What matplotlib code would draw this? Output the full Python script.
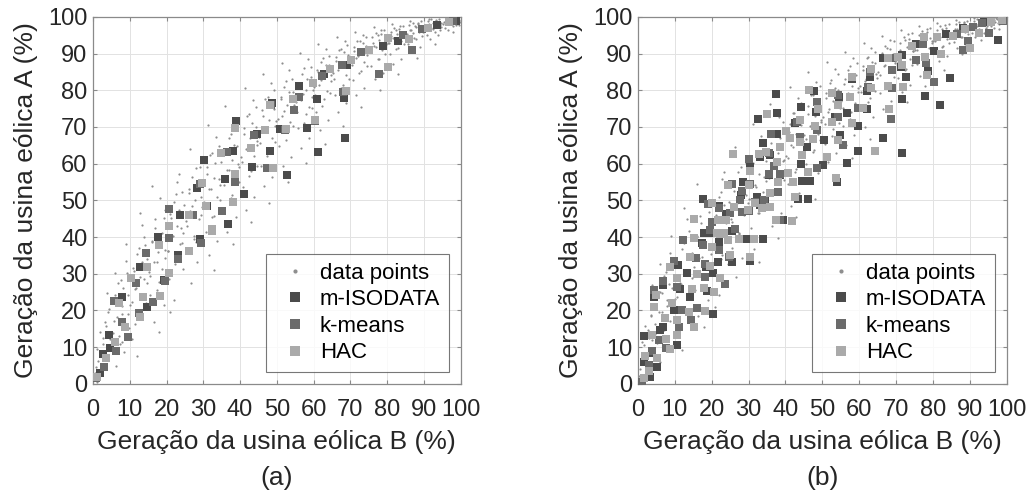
import matplotlib
matplotlib.use("Agg")
import matplotlib.pyplot as plt

plt.rcParams["font.family"] = ["Liberation Sans", "DejaVu Sans"]

# ---- panel (a) ----
# data point cloud
cloud_a_x = [
    0.4, 0.9, 1.3, 1.8, 2.2, 2.7, 3.1, 3.6, 4.0, 4.4, 4.8, 1.1, 2.5, 3.9,
    5.3, 5.8, 6.2, 6.7, 7.1, 7.6, 8.0, 8.5, 8.9, 9.4, 9.8, 6.0, 7.9, 9.1,
    10.2, 10.7, 11.1, 11.6, 12.0, 12.5, 12.9, 13.4, 13.8, 14.3, 14.7, 11.3, 12.7, 14.0,
    15.2, 15.6, 16.1, 16.5, 17.0, 17.4, 17.9, 18.3, 18.8, 19.2, 19.7, 16.0, 18.0, 19.5,
    20.3, 20.8, 21.2, 21.7, 22.1, 22.6, 23.0, 23.5, 23.9, 24.4, 24.8, 21.0, 22.9, 24.1,
    25.2, 25.7, 26.1, 26.6, 27.0, 27.5, 27.9, 28.4, 28.8, 29.3, 29.7, 26.3, 28.1, 29.5,
    30.2, 30.7, 31.1, 31.6, 32.0, 32.5, 32.9, 33.4, 33.8, 34.3, 34.7, 31.4, 33.0, 34.5,
    35.2, 35.6, 36.1, 36.5, 37.0, 37.4, 37.9, 38.3, 38.8, 39.2, 39.7, 36.0, 38.0, 39.4,
    40.2, 40.7, 41.1, 41.6, 42.0, 42.5, 42.9, 43.4, 43.8, 44.3, 44.7, 41.3, 43.0, 44.5,
    45.2, 45.7, 46.1, 46.6, 47.0, 47.5, 47.9, 48.4, 48.8, 49.3, 49.7, 46.3, 48.0, 49.5,
    50.2, 50.7, 51.1, 51.6, 52.0, 52.5, 52.9, 53.4, 53.8, 54.3, 54.7, 51.3, 53.0, 54.5,
    55.2, 55.7, 56.1, 56.6, 57.0, 57.5, 57.9, 58.4, 58.8, 59.3, 59.7, 56.3, 58.0, 59.5,
    60.2, 60.7, 61.1, 61.6, 62.0, 62.5, 62.9, 63.4, 63.8, 64.3, 64.7, 61.3, 63.0, 64.5,
    65.2, 65.7, 66.1, 66.6, 67.0, 67.5, 67.9, 68.4, 68.8, 69.3, 69.7, 66.3, 68.0, 69.5,
    70.2, 70.7, 71.1, 71.6, 72.0, 72.5, 72.9, 73.4, 73.8, 74.3, 74.7, 71.3, 73.0, 74.5,
    75.2, 75.7, 76.1, 76.6, 77.0, 77.5, 77.9, 78.4, 78.8, 79.3, 79.7, 76.3, 78.0, 79.5,
    80.2, 80.7, 81.1, 81.6, 82.0, 82.5, 82.9, 83.4, 83.8, 84.3, 84.7, 81.3, 83.0, 84.5,
    85.2, 85.7, 86.1, 86.6, 87.0, 87.5, 87.9, 88.4, 88.8, 89.3, 89.7, 86.3, 88.0, 89.5,
    90.2, 90.7, 91.1, 91.6, 92.0, 92.5, 92.9, 93.4, 93.8, 94.3, 94.7, 91.3, 93.0, 94.5,
    95.2, 95.7, 96.1, 96.6, 97.0, 97.5, 97.9, 98.4, 98.8, 99.3, 99.7, 96.3, 98.0, 99.5,
]
cloud_a_y = [
    1.2, 4.5, 2.0, 8.3, 5.1, 12.4, 7.0, 15.8, 10.2, 20.5, 13.7, 0.5, 3.4, 24.8,
    9.5, 17.2, 4.8, 22.6, 13.1, 28.4, 19.0, 8.7, 33.5, 24.1, 15.3, 30.2, 11.5, 38.0,
    21.4, 12.3, 30.8, 26.0, 7.5, 36.9, 18.6, 43.2, 28.7, 22.1, 33.9, 16.2, 46.5, 40.1,
    30.5, 24.2, 38.7, 16.9, 44.9, 33.1, 27.8, 50.6, 41.0, 21.5, 36.4, 53.8, 14.2, 47.3,
    36.2, 28.5, 45.1, 40.3, 22.9, 51.7, 34.0, 57.2, 42.6, 31.4, 48.8, 19.5, 55.0, 38.5,
    44.3, 35.9, 52.0, 27.4, 48.6, 40.2, 58.8, 33.1, 54.5, 46.0, 61.5, 63.9, 38.7, 50.8,
    49.6, 41.4, 57.3, 35.2, 53.0, 62.8, 45.7, 67.2, 38.9, 55.9, 60.4, 70.5, 31.0, 50.2,
    55.8, 47.9, 62.6, 41.3, 58.4, 68.1, 51.5, 72.3, 45.6, 64.7, 54.9, 75.8, 38.2, 60.0,
    61.7, 53.6, 68.2, 47.4, 64.0, 73.5, 57.9, 77.4, 50.8, 70.1, 66.3, 80.6, 44.0, 59.5,
    67.4, 59.3, 73.0, 53.8, 69.7, 78.2, 63.1, 81.9, 56.5, 75.0, 71.6, 84.5, 49.2, 65.8,
    72.1, 64.7, 77.6, 59.4, 74.3, 82.5, 68.8, 85.4, 61.9, 79.6, 76.0, 87.3, 55.1, 70.4,
    76.8, 69.6, 81.4, 64.2, 78.9, 86.1, 73.4, 88.6, 67.0, 83.7, 80.2, 90.1, 60.3, 75.1,
    80.9, 74.2, 85.0, 69.1, 82.8, 88.9, 77.5, 91.2, 71.8, 86.9, 84.1, 92.6, 65.4, 79.3,
    84.6, 78.7, 88.0, 74.0, 86.4, 91.3, 81.5, 93.4, 76.4, 89.7, 87.5, 94.5, 70.3, 83.0,
    87.9, 82.9, 90.6, 78.6, 89.4, 93.3, 85.2, 95.1, 80.7, 92.0, 90.3, 96.0, 75.5, 86.5,
    90.7, 86.7, 92.9, 83.1, 91.9, 95.0, 88.6, 96.5, 84.8, 94.0, 92.6, 97.2, 80.0, 89.8,
    93.0, 89.9, 94.8, 87.2, 94.0, 96.4, 91.6, 97.6, 88.5, 95.6, 94.4, 98.1, 84.3, 92.5,
    95.0, 92.7, 96.3, 90.8, 95.7, 97.5, 94.1, 98.4, 91.9, 96.9, 95.9, 98.8, 88.7, 94.8,
    96.6, 95.0, 97.5, 93.9, 97.1, 98.4, 96.0, 99.0, 95.0, 97.9, 97.2, 99.4, 92.5, 96.4,
    98.0, 97.0, 98.5, 96.5, 98.3, 99.1, 97.6, 99.5, 97.9, 98.8, 98.6, 99.7, 96.0, 97.8,
]
# denser core of the cloud
core_a_x = [
    0.5, 1.0, 1.5, 1.9, 2.4, 2.8, 3.3, 3.7, 4.2, 4.6,
    5.5, 6.0, 6.5, 6.9, 7.4, 7.8, 8.3, 8.7, 9.2, 9.6,
    10.5, 11.0, 11.5, 11.9, 12.4, 12.8, 13.3, 13.7, 14.2, 14.6,
    15.5, 16.0, 16.5, 16.9, 17.4, 17.8, 18.3, 18.7, 19.2, 19.6,
    20.5, 21.0, 21.5, 21.9, 22.4, 22.8, 23.3, 23.7, 24.2, 24.6,
    25.5, 26.0, 26.5, 26.9, 27.4, 27.8, 28.3, 28.7, 29.2, 29.6,
    30.5, 31.0, 31.5, 31.9, 32.4, 32.8, 33.3, 33.7, 34.2, 34.6,
    35.5, 36.0, 36.5, 36.9, 37.4, 37.8, 38.3, 38.7, 39.2, 39.6,
    40.5, 41.0, 41.5, 41.9, 42.4, 42.8, 43.3, 43.7, 44.2, 44.6,
    45.5, 46.0, 46.5, 46.9, 47.4, 47.8, 48.3, 48.7, 49.2, 49.6,
    50.5, 51.0, 51.5, 51.9, 52.4, 52.8, 53.3, 53.7, 54.2, 54.6,
    55.5, 56.0, 56.5, 56.9, 57.4, 57.8, 58.3, 58.7, 59.2, 59.6,
    60.5, 61.0, 61.5, 61.9, 62.4, 62.8, 63.3, 63.7, 64.2, 64.6,
    65.5, 66.0, 66.5, 66.9, 67.4, 67.8, 68.3, 68.7, 69.2, 69.6,
    70.5, 71.0, 71.5, 71.9, 72.4, 72.8, 73.3, 73.7, 74.2, 74.6,
    75.5, 76.0, 76.5, 76.9, 77.4, 77.8, 78.3, 78.7, 79.2, 79.6,
    80.5, 81.0, 81.5, 81.9, 82.4, 82.8, 83.3, 83.7, 84.2, 84.6,
    85.5, 86.0, 86.5, 86.9, 87.4, 87.8, 88.3, 88.7, 89.2, 89.6,
    90.5, 91.0, 91.5, 91.9, 92.4, 92.8, 93.3, 93.7, 94.2, 94.6,
    95.5, 96.0, 96.5, 96.9, 97.4, 97.8, 98.3, 98.7, 99.2, 99.6,
]
core_a_y = [
    3.0, 9.5, 6.2, 14.1, 2.6, 11.0, 16.8, 7.3, 19.5, 12.2,
    14.0, 24.1, 18.3, 27.6, 10.9, 21.2, 26.0, 15.8, 30.3, 19.0,
    22.4, 31.6, 25.8, 35.3, 19.0, 29.2, 33.1, 24.5, 37.8, 27.4,
    29.3, 39.0, 33.1, 42.4, 25.7, 36.0, 40.1, 31.2, 45.3, 34.2,
    36.1, 46.3, 40.2, 49.5, 32.8, 43.0, 47.4, 38.0, 52.2, 41.1,
    43.0, 53.2, 47.1, 56.5, 39.6, 50.1, 54.3, 45.0, 59.0, 48.2,
    49.2, 59.0, 53.1, 62.3, 45.5, 56.0, 60.1, 51.0, 64.8, 54.1,
    54.3, 64.0, 58.2, 67.1, 50.6, 61.1, 65.2, 56.0, 69.7, 59.2,
    60.4, 69.8, 64.1, 72.9, 56.7, 67.0, 71.0, 62.0, 75.4, 65.1,
    65.5, 74.6, 69.1, 77.5, 62.0, 72.0, 75.9, 67.1, 80.0, 70.2,
    69.8, 78.2, 73.1, 81.0, 66.5, 76.0, 79.6, 71.3, 83.2, 74.2,
    74.2, 82.0, 77.3, 84.5, 71.0, 80.0, 83.2, 75.5, 86.4, 78.3,
    78.6, 85.6, 81.4, 87.8, 75.7, 83.9, 86.8, 79.8, 89.3, 82.4,
    83.1, 89.2, 85.6, 91.0, 80.5, 87.8, 90.3, 84.2, 92.3, 86.5,
    86.8, 91.9, 88.9, 93.4, 84.6, 90.7, 92.9, 87.6, 94.6, 89.6,
    90.4, 94.4, 92.0, 95.6, 88.6, 93.6, 95.2, 91.0, 96.5, 92.7,
    92.8, 96.0, 94.2, 96.9, 91.2, 95.4, 96.6, 93.4, 97.6, 94.8,
    95.3, 97.8, 96.4, 98.4, 94.2, 97.3, 98.1, 95.8, 98.8, 96.8,
    97.2, 98.9, 98.0, 99.3, 96.6, 98.6, 99.1, 97.6, 99.5, 98.3,
    98.6, 99.5, 99.0, 99.7, 98.2, 99.3, 99.6, 98.8, 99.8, 99.2,
]

iso_a_x = [98.8, 93.6, 83.0, 78.9, 69.0, 62.9, 56.1, 60.8, 68.3, 48.6, 58.1, 50.9, 68.5,
           61.3, 44.7, 39.0, 48.1, 38.0, 30.2, 43.2, 52.7, 35.9, 28.2, 41.2, 31.1, 36.6,
           23.7, 17.8, 29.0, 23.1, 12.9, 19.4, 14.7, 7.9, 4.3, 4.7, 2.7, 2.0]
iso_a_y = [99.0, 97.8, 93.3, 92.1, 86.8, 84.4, 81.2, 77.7, 77.9, 76.4, 69.8, 69.5, 67.1,
           63.2, 68.2, 71.7, 63.5, 63.5, 61.1, 59.0, 56.9, 55.9, 53.5, 51.7, 48.4, 43.6,
           45.9, 40.0, 39.4, 35.1, 31.8, 28.3, 21.0, 23.6, 13.3, 9.7, 8.2, 2.9]

km_a_x = [98.0, 89.6, 84.2, 86.8, 73.0, 67.6, 77.7, 62.2, 56.1, 68.0, 54.8, 48.3, 60.5,
          52.2, 43.8, 36.4, 47.2, 38.6, 29.1, 35.0, 20.6, 27.3, 20.7, 29.5, 23.1, 14.4,
          11.8, 19.6, 16.3, 5.6, 12.4, 7.9, 9.5, 6.3, 3.1, 0.8]
km_a_y = [98.8, 96.6, 95.1, 90.9, 90.5, 87.0, 84.5, 83.9, 78.2, 79.4, 74.6, 75.9, 71.7,
          69.3, 67.7, 63.2, 58.7, 55.1, 54.4, 47.2, 47.7, 45.9, 39.7, 38.5, 33.9, 35.6,
          27.6, 28.0, 22.4, 22.7, 19.2, 17.0, 12.9, 9.1, 4.5, 1.5]

hac_a_x = [96.8, 91.0, 80.3, 86.0, 75.1, 70.3, 80.1, 64.4, 59.9, 54.5, 68.7, 48.1, 60.3,
           52.5, 46.8, 38.6, 42.9, 34.8, 48.9, 38.5, 29.6, 30.8, 38.0, 32.3, 26.0, 20.7,
           17.9, 32.5, 26.0, 14.7, 10.3, 20.8, 18.3, 13.6, 7.2, 12.7, 8.8, 6.1, 3.6, 1.1]
hac_a_y = [98.7, 96.9, 94.3, 94.0, 90.9, 88.2, 86.4, 85.7, 82.0, 77.6, 79.9, 76.1, 72.0,
           69.5, 69.3, 69.8, 64.3, 63.0, 58.7, 57.1, 54.8, 48.4, 49.5, 42.1, 45.9, 43.1,
           37.8, 41.7, 36.3, 31.9, 28.8, 30.3, 24.0, 23.6, 22.1, 18.1, 15.6, 11.5, 7.0, 2.0]

# ---- panel (b) ----
cloud_b_x = [
    0.3, 0.8, 1.2, 1.7, 2.1, 2.6, 3.0, 3.5, 3.9, 4.3, 4.7, 1.0, 2.4, 3.8,
    5.2, 5.7, 6.1, 6.6, 7.0, 7.5, 7.9, 8.4, 8.8, 9.3, 9.7, 5.9, 7.8, 9.0,
    10.1, 10.6, 11.0, 11.5, 11.9, 12.4, 12.8, 13.3, 13.7, 14.2, 14.6, 11.2, 12.6, 13.9,
    15.1, 15.5, 16.0, 16.4, 16.9, 17.3, 17.8, 18.2, 18.7, 19.1, 19.6, 15.9, 17.9, 19.4,
    20.2, 20.7, 21.1, 21.6, 22.0, 22.5, 22.9, 23.4, 23.8, 24.3, 24.7, 20.9, 22.8, 24.0,
    25.1, 25.6, 26.0, 26.5, 26.9, 27.4, 27.8, 28.3, 28.7, 29.2, 29.6, 26.2, 28.0, 29.4,
    30.1, 30.6, 31.0, 31.5, 31.9, 32.4, 32.8, 33.3, 33.7, 34.2, 34.6, 31.3, 32.9, 34.4,
    35.1, 35.5, 36.0, 36.4, 36.9, 37.3, 37.8, 38.2, 38.7, 39.1, 39.6, 35.9, 37.9, 39.3,
    40.1, 40.6, 41.0, 41.5, 41.9, 42.4, 42.8, 43.3, 43.7, 44.2, 44.6, 41.2, 42.9, 44.4,
    45.1, 45.6, 46.0, 46.5, 46.9, 47.4, 47.8, 48.3, 48.7, 49.2, 49.6, 46.2, 47.9, 49.4,
    50.1, 50.6, 51.0, 51.5, 51.9, 52.4, 52.8, 53.3, 53.7, 54.2, 54.6, 51.2, 52.9, 54.4,
    55.1, 55.6, 56.0, 56.5, 56.9, 57.4, 57.8, 58.3, 58.7, 59.2, 59.6, 56.2, 57.9, 59.4,
    60.1, 60.6, 61.0, 61.5, 61.9, 62.4, 62.8, 63.3, 63.7, 64.2, 64.6, 61.2, 62.9, 64.4,
    65.1, 65.6, 66.0, 66.5, 66.9, 67.4, 67.8, 68.3, 68.7, 69.2, 69.6, 66.2, 67.9, 69.4,
    70.1, 70.6, 71.0, 71.5, 71.9, 72.4, 72.8, 73.3, 73.7, 74.2, 74.6, 71.2, 72.9, 74.4,
    75.1, 75.6, 76.0, 76.5, 76.9, 77.4, 77.8, 78.3, 78.7, 79.2, 79.6, 76.2, 77.9, 79.4,
    80.1, 80.6, 81.0, 81.5, 81.9, 82.4, 82.8, 83.3, 83.7, 84.2, 84.6, 81.2, 82.9, 84.4,
    85.1, 85.6, 86.0, 86.5, 86.9, 87.4, 87.8, 88.3, 88.7, 89.2, 89.6, 86.2, 87.9, 89.4,
    90.1, 90.6, 91.0, 91.5, 91.9, 92.4, 92.8, 93.3, 93.7, 94.2, 94.6, 91.2, 92.9, 94.4,
    95.1, 95.6, 96.0, 96.5, 96.9, 97.4, 97.8, 98.3, 98.7, 99.2, 99.6, 96.2, 97.9, 99.4,
]
cloud_b_y = [
    2.1, 6.3, 0.8, 10.5, 4.2, 14.6, 8.1, 18.9, 12.0, 23.4, 16.3, 1.5, 5.5, 27.0,
    11.2, 19.6, 6.0, 24.8, 14.7, 30.5, 21.3, 9.4, 35.8, 26.2, 17.4, 32.7, 12.9, 40.3,
    23.0, 14.1, 32.4, 27.6, 9.3, 38.5, 20.2, 44.8, 30.1, 24.0, 35.6, 17.8, 47.9, 41.7,
    31.8, 25.7, 39.9, 18.4, 45.8, 34.6, 29.1, 51.2, 42.3, 22.8, 37.6, 54.4, 15.6, 48.6,
    37.0, 29.7, 46.0, 41.5, 24.3, 52.3, 35.1, 57.6, 43.8, 32.6, 49.6, 21.0, 55.7, 39.4,
    44.9, 37.1, 52.6, 29.0, 49.4, 41.1, 59.2, 34.2, 55.0, 46.8, 61.9, 64.5, 39.8, 51.5,
    50.3, 42.6, 57.9, 36.8, 53.7, 63.1, 46.5, 67.6, 40.0, 56.5, 60.8, 70.9, 33.1, 51.0,
    56.4, 48.8, 63.0, 42.9, 59.0, 68.5, 52.3, 72.7, 46.6, 65.1, 55.6, 76.3, 39.7, 60.6,
    62.2, 54.5, 68.6, 48.6, 64.5, 73.9, 58.6, 77.9, 51.9, 70.5, 66.8, 81.0, 45.5, 60.2,
    67.9, 60.0, 73.5, 54.9, 70.2, 78.6, 63.8, 82.3, 57.4, 75.4, 72.0, 84.9, 50.5, 66.4,
    72.6, 65.4, 78.0, 60.4, 74.8, 82.9, 69.4, 85.8, 62.8, 80.0, 76.5, 87.6, 56.3, 71.0,
    77.2, 70.3, 81.8, 65.1, 79.3, 86.5, 74.0, 88.9, 67.9, 84.1, 80.7, 90.4, 61.5, 75.7,
    81.3, 74.8, 85.4, 70.0, 83.2, 89.2, 78.0, 91.5, 72.6, 87.3, 84.5, 92.9, 66.7, 79.8,
    85.0, 79.2, 88.4, 74.9, 86.8, 91.6, 82.0, 93.7, 77.2, 90.0, 87.9, 94.8, 71.6, 83.5,
    88.3, 83.4, 91.0, 79.5, 89.8, 93.6, 85.7, 95.4, 81.5, 92.3, 90.7, 96.3, 76.8, 87.0,
    91.1, 87.2, 93.3, 84.0, 92.3, 95.3, 89.1, 96.8, 85.6, 94.3, 93.0, 97.5, 81.3, 90.3,
    93.4, 90.4, 95.2, 88.1, 94.4, 96.7, 92.1, 97.9, 89.3, 95.9, 94.8, 98.4, 85.6, 93.0,
    95.4, 93.2, 96.7, 91.6, 96.1, 97.8, 94.6, 98.7, 92.7, 97.2, 96.3, 99.1, 89.9, 95.3,
    97.0, 95.5, 97.9, 94.6, 97.5, 98.7, 96.5, 99.3, 95.7, 98.2, 97.6, 99.6, 93.6, 96.9,
    98.4, 97.4, 98.9, 97.0, 98.7, 99.4, 98.0, 99.8, 98.3, 99.1, 99.0, 99.9, 96.8, 98.2,
]
core_b_x = [
    0.6, 1.1, 1.6, 2.0, 2.5, 2.9, 3.4, 3.8, 4.3, 4.7,
    5.6, 6.1, 6.6, 7.0, 7.5, 7.9, 8.4, 8.8, 9.3, 9.7,
    10.6, 11.1, 11.6, 12.0, 12.5, 12.9, 13.4, 13.8, 14.3, 14.7,
    15.6, 16.1, 16.6, 17.0, 17.5, 17.9, 18.4, 18.8, 19.3, 19.7,
    20.6, 21.1, 21.6, 22.0, 22.5, 22.9, 23.4, 23.8, 24.3, 24.7,
    25.6, 26.1, 26.6, 27.0, 27.5, 27.9, 28.4, 28.8, 29.3, 29.7,
    30.6, 31.1, 31.6, 32.0, 32.5, 32.9, 33.4, 33.8, 34.3, 34.7,
    35.6, 36.1, 36.6, 37.0, 37.5, 37.9, 38.4, 38.8, 39.3, 39.7,
    40.6, 41.1, 41.6, 42.0, 42.5, 42.9, 43.4, 43.8, 44.3, 44.7,
    45.6, 46.1, 46.6, 47.0, 47.5, 47.9, 48.4, 48.8, 49.3, 49.7,
    50.6, 51.1, 51.6, 52.0, 52.5, 52.9, 53.4, 53.8, 54.3, 54.7,
    55.6, 56.1, 56.6, 57.0, 57.5, 57.9, 58.4, 58.8, 59.3, 59.7,
    60.6, 61.1, 61.6, 62.0, 62.5, 62.9, 63.4, 63.8, 64.3, 64.7,
    65.6, 66.1, 66.6, 67.0, 67.5, 67.9, 68.4, 68.8, 69.3, 69.7,
    70.6, 71.1, 71.6, 72.0, 72.5, 72.9, 73.4, 73.8, 74.3, 74.7,
    75.6, 76.1, 76.6, 77.0, 77.5, 77.9, 78.4, 78.8, 79.3, 79.7,
    80.6, 81.1, 81.6, 82.0, 82.5, 82.9, 83.4, 83.8, 84.3, 84.7,
    85.6, 86.1, 86.6, 87.0, 87.5, 87.9, 88.4, 88.8, 89.3, 89.7,
    90.6, 91.1, 91.6, 92.0, 92.5, 92.9, 93.4, 93.8, 94.3, 94.7,
    95.6, 96.1, 96.6, 97.0, 97.5, 97.9, 98.4, 98.8, 99.3, 99.7,
]
core_b_y = [
    4.1, 11.3, 7.5, 15.7, 2.2, 12.6, 18.4, 8.8, 21.9, 13.5,
    15.6, 25.0, 19.7, 29.4, 12.1, 22.8, 27.3, 17.2, 32.2, 20.5,
    23.6, 33.0, 27.1, 36.7, 20.2, 30.5, 34.6, 25.8, 39.5, 28.8,
    30.4, 40.2, 34.4, 43.9, 26.9, 37.3, 41.5, 32.5, 46.8, 35.5,
    37.4, 47.4, 41.5, 50.8, 34.0, 44.2, 48.7, 39.3, 53.6, 42.4,
    44.2, 54.4, 48.3, 57.7, 40.8, 51.3, 55.5, 46.1, 60.3, 49.4,
    50.3, 60.1, 54.3, 63.5, 46.6, 57.1, 61.4, 52.2, 66.1, 55.2,
    56.2, 65.7, 60.0, 68.9, 52.4, 62.9, 67.0, 57.8, 71.4, 61.0,
    61.5, 70.9, 65.2, 73.9, 57.8, 68.1, 72.1, 63.0, 76.5, 66.2,
    66.6, 75.7, 70.2, 78.6, 63.1, 73.1, 77.0, 68.2, 81.1, 71.3,
    70.9, 79.3, 74.2, 82.1, 67.6, 77.1, 80.7, 72.4, 84.3, 75.3,
    75.3, 83.1, 78.4, 85.6, 72.1, 81.1, 84.3, 76.6, 87.5, 79.4,
    79.6, 86.7, 82.4, 88.9, 76.7, 84.9, 87.8, 80.8, 90.3, 83.4,
    84.1, 90.2, 86.6, 92.0, 81.5, 88.8, 91.3, 85.2, 93.3, 87.5,
    87.8, 92.9, 89.9, 94.4, 85.6, 91.7, 93.9, 88.6, 95.6, 90.6,
    91.0, 95.0, 92.6, 96.2, 89.2, 94.2, 95.8, 91.6, 97.1, 93.3,
    93.3, 96.5, 94.7, 97.4, 91.7, 95.9, 97.1, 93.9, 98.1, 95.3,
    95.5, 98.0, 96.6, 98.6, 94.4, 97.5, 98.3, 96.0, 99.0, 97.0,
    97.3, 99.0, 98.1, 99.4, 96.7, 98.7, 99.2, 97.7, 99.6, 98.4,
    98.7, 99.6, 99.1, 99.8, 98.3, 99.4, 99.7, 98.9, 99.9, 99.3,
]

iso_b_x = [83.5, 75.5, 97.7, 80.3, 84.7, 78.7, 77.8, 81.9, 71.5, 66.5, 71.3, 72.8, 71.7,
           66.5, 71.5, 62.9, 62.0, 57.9, 62.2, 54.6, 56.6, 53.4, 59.7, 54.8, 59.7, 56.6,
           53.9, 47.8, 44.2, 48.3, 50.5, 45.8, 50.3, 44.1, 46.6, 44.4, 46.2, 43.3, 42.6,
           37.5, 37.6, 32.5, 37.8, 34.0, 35.8, 33.1, 35.6, 38.4, 38.1, 34.5, 39.4, 30.5,
           28.4, 28.0, 32.2, 33.1, 23.9, 22.1, 17.6, 17.8, 25.5, 29.3, 33.8, 21.9, 17.3,
           19.6, 30.4, 25.5, 10.8, 13.3, 18.4, 21.8, 20.3, 6.8, 11.5, 14.0, 18.7, 9.7,
           20.3, 6.8, 4.4, 1.5, 6.0, 10.6, 3.8, 5.1, 1.5, 0.6, 3.3, 88.0, 93.8]
iso_b_y = [95.2, 92.7, 93.6, 90.7, 83.4, 85.3, 78.4, 76.1, 89.6, 88.9, 86.4, 83.7, 77.5,
           67.1, 62.8, 83.5, 79.9, 83.2, 75.0, 78.2, 73.7, 72.8, 70.2, 67.8, 63.5, 60.1,
           54.9, 79.9, 75.5, 74.1, 66.4, 64.6, 59.6, 59.9, 55.4, 55.4, 50.3, 50.5, 71.0,
           79.1, 73.7, 72.1, 68.2, 65.7, 62.5, 61.9, 57.0, 57.0, 52.2, 49.9, 44.6, 59.2,
           55.1, 51.6, 51.0, 48.7, 46.3, 48.5, 50.3, 41.2, 41.7, 39.4, 39.4, 38.7, 38.3,
           41.0, 33.6, 33.3, 32.4, 30.1, 31.9, 33.3, 30.3, 27.0, 25.8, 23.6, 25.4, 20.1,
           19.1, 15.6, 23.8, 13.1, 14.7, 10.6, 8.3, 4.7, 6.1, 0.4, 2.0, 97.0, 98.5]

km_b_x = [93.4, 90.9, 86.4, 77.3, 95.2, 89.5, 88.2, 75.5, 78.2, 80.3, 68.6, 68.8, 68.8,
          68.6, 62.9, 62.5, 59.7, 54.3, 54.3, 55.7, 48.5, 48.5, 48.6, 43.1, 44.0, 36.0,
          35.6, 37.0, 35.4, 38.4, 38.1, 34.3, 38.5, 30.0, 30.4, 28.2, 25.5, 31.8, 30.0,
          28.2, 27.7, 25.0, 22.1, 19.1, 20.0, 19.6, 26.4, 12.2, 17.6, 22.1, 24.8, 15.8,
          9.8, 18.1, 23.6, 18.2, 6.9, 4.4, 10.6, 11.9, 16.0, 14.4, 11.0, 5.6, 7.7, 3.8,
          2.9, 1.1, 99.0]
km_b_y = [98.4, 97.3, 95.2, 92.7, 95.5, 93.5, 90.9, 88.2, 87.5, 82.3, 88.7, 85.5, 80.7,
          72.1, 85.0, 80.9, 75.3, 78.7, 72.6, 65.1, 76.9, 69.1, 58.7, 71.4, 67.2, 68.1,
          62.8, 59.4, 57.2, 57.2, 52.4, 50.1, 44.6, 61.2, 54.6, 52.6, 54.4, 49.5, 47.2,
          46.9, 50.1, 46.5, 47.8, 49.0, 44.2, 41.9, 42.1, 39.2, 37.8, 36.5, 34.7, 34.2,
          33.6, 32.8, 27.2, 29.2, 27.9, 25.6, 26.5, 20.1, 20.6, 17.4, 15.6, 12.0, 9.7, 9.0,
          5.2, 0.6, 99.0]

hac_b_x = [98.8, 95.8, 88.6, 85.3, 81.0, 77.6, 74.2, 92.5, 90.0, 82.3, 77.8, 78.5, 70.6,
           67.7, 71.7, 71.9, 67.9, 68.1, 63.1, 63.1, 57.9, 57.5, 61.1, 52.5, 54.3, 52.5,
           57.9, 54.3, 64.3, 53.7, 46.5, 48.7, 48.0, 47.4, 51.2, 46.2, 44.0, 41.2, 43.8,
           44.4, 42.1, 42.6, 40.6, 34.9, 40.2, 38.4, 34.7, 32.7, 37.8, 38.1, 35.8, 35.8,
           37.5, 41.7, 30.5, 25.9, 30.0, 24.5, 31.8, 33.6, 29.7, 26.1, 23.9, 20.0, 21.7,
           15.1, 21.4, 23.2, 27.3, 31.5, 15.3, 24.3, 22.3, 20.1, 30.4, 25.0, 14.2, 8.8,
           15.9, 19.6, 22.3, 10.6, 4.9, 14.6, 17.8, 20.5, 9.2, 13.7, 18.2, 15.1, 10.6,
           7.4, 4.4, 3.8, 7.7, 8.8, 10.6, 2.0, 5.1, 2.9, 1.5]
hac_b_y = [99.1, 98.6, 96.6, 94.7, 94.4, 94.6, 92.0, 95.5, 91.4, 90.0, 89.1, 84.1, 89.1,
           88.9, 86.8, 80.8, 81.1, 74.8, 85.9, 80.5, 83.5, 78.2, 75.3, 79.3, 76.0, 71.4,
           71.0, 66.4, 63.5, 56.0, 80.0, 75.0, 70.2, 66.6, 61.9, 57.8, 71.9, 66.9, 66.0,
           62.3, 55.1, 50.8, 57.4, 73.5, 69.0, 64.6, 63.3, 62.6, 60.5, 55.1, 51.9, 48.3,
           44.6, 44.5, 58.1, 62.6, 54.2, 54.2, 49.3, 47.8, 47.4, 48.3, 44.6, 49.4, 44.6,
           45.0, 41.0, 41.0, 39.6, 39.4, 39.8, 39.2, 40.8, 37.2, 34.7, 35.1, 34.7, 31.9,
           29.9, 32.1, 28.8, 28.8, 24.2, 25.8, 26.0, 25.1, 22.1, 19.7, 19.9, 15.5, 17.4,
           17.9, 20.9, 13.3, 12.2, 9.4, 13.3, 7.6, 7.0, 3.4, 1.5]

ticks = [0, 10, 20, 30, 40, 50, 60, 70, 80, 90, 100]
xlabel = "Geração da usina eólica B (%)"
ylabel = "Geração da usina eólica A (%)"
panel_tags = ["(a)", "(b)"]

C_DATA, C_ISO, C_KM, C_HAC = "#8e8e8e", "#4b4b4b", "#6b6b6b", "#aaaaaa"
FS_TICK, FS_LABEL, FS_LEG = 17, 19, 16

fig = plt.figure(figsize=(10.33, 4.96), dpi=100)
axes = [fig.add_axes([0.090, 0.226, 0.356, 0.740]),
        fig.add_axes([0.6176, 0.226, 0.357, 0.740])]

panels = [
    (cloud_a_x + core_a_x, cloud_a_y + core_a_y,
     iso_a_x, iso_a_y, km_a_x, km_a_y, hac_a_x, hac_a_y),
    (cloud_b_x + core_b_x, cloud_b_y + core_b_y,
     iso_b_x, iso_b_y, km_b_x, km_b_y, hac_b_x, hac_b_y),
]

for ax, tag, (cx, cy, ix, iy, kx, ky, hx, hy) in zip(axes, panel_tags, panels):
    ax.plot(cx, cy, "o", color=C_DATA, markersize=1.6, markeredgewidth=0,
            label="data points", zorder=2)
    ax.plot(ix, iy, "s", color=C_ISO, markersize=6.3, markeredgewidth=0,
            label="m-ISODATA", zorder=3)
    ax.plot(kx, ky, "s", color=C_KM, markersize=6.3, markeredgewidth=0,
            label="k-means", zorder=4)
    ax.plot(hx, hy, "s", color=C_HAC, markersize=6.3, markeredgewidth=0,
            label="HAC", zorder=5)

    ax.set_xlim(0, 100)
    ax.set_ylim(0, 100)
    ax.set_xticks(ticks)
    ax.set_yticks(ticks)
    ax.grid(True, color="#e2e2e2", linewidth=0.7)
    ax.set_axisbelow(True)
    for s in ax.spines.values():
        s.set_color("#8a8a8a")
        s.set_linewidth(0.9)
    ax.tick_params(direction="in", top=True, right=True, length=3,
                   color="#8a8a8a", labelsize=FS_TICK, labelcolor="#262626")
    ax.tick_params(axis="x", pad=11)
    ax.tick_params(axis="y", pad=4)
    ax.set_xlabel(xlabel, fontsize=FS_LABEL, color="#262626", labelpad=6)
    ax.set_ylabel(ylabel, fontsize=FS_LABEL, color="#262626")
    ax.yaxis.set_label_coords(-0.15, 0.5)

    leg = ax.legend(loc="lower right", bbox_to_anchor=(0.967, 0.033),
                    fontsize=FS_LEG, frameon=True, fancybox=False,
                    handlelength=1.9, handletextpad=0.15,
                    borderpad=0.38, labelspacing=0.25, borderaxespad=0)
    leg.get_frame().set_edgecolor("#555555")
    leg.get_frame().set_linewidth(0.8)
    for h in leg.legend_handles[1:]:
        h.set_markersize(7)
    leg.legend_handles[0].set_markersize(3)

    ax.text(0.5, -0.256, tag, transform=ax.transAxes, ha="center", va="center",
            fontsize=FS_LABEL, color="#262626")

fig.savefig("out.png", dpi=100, facecolor="white")
